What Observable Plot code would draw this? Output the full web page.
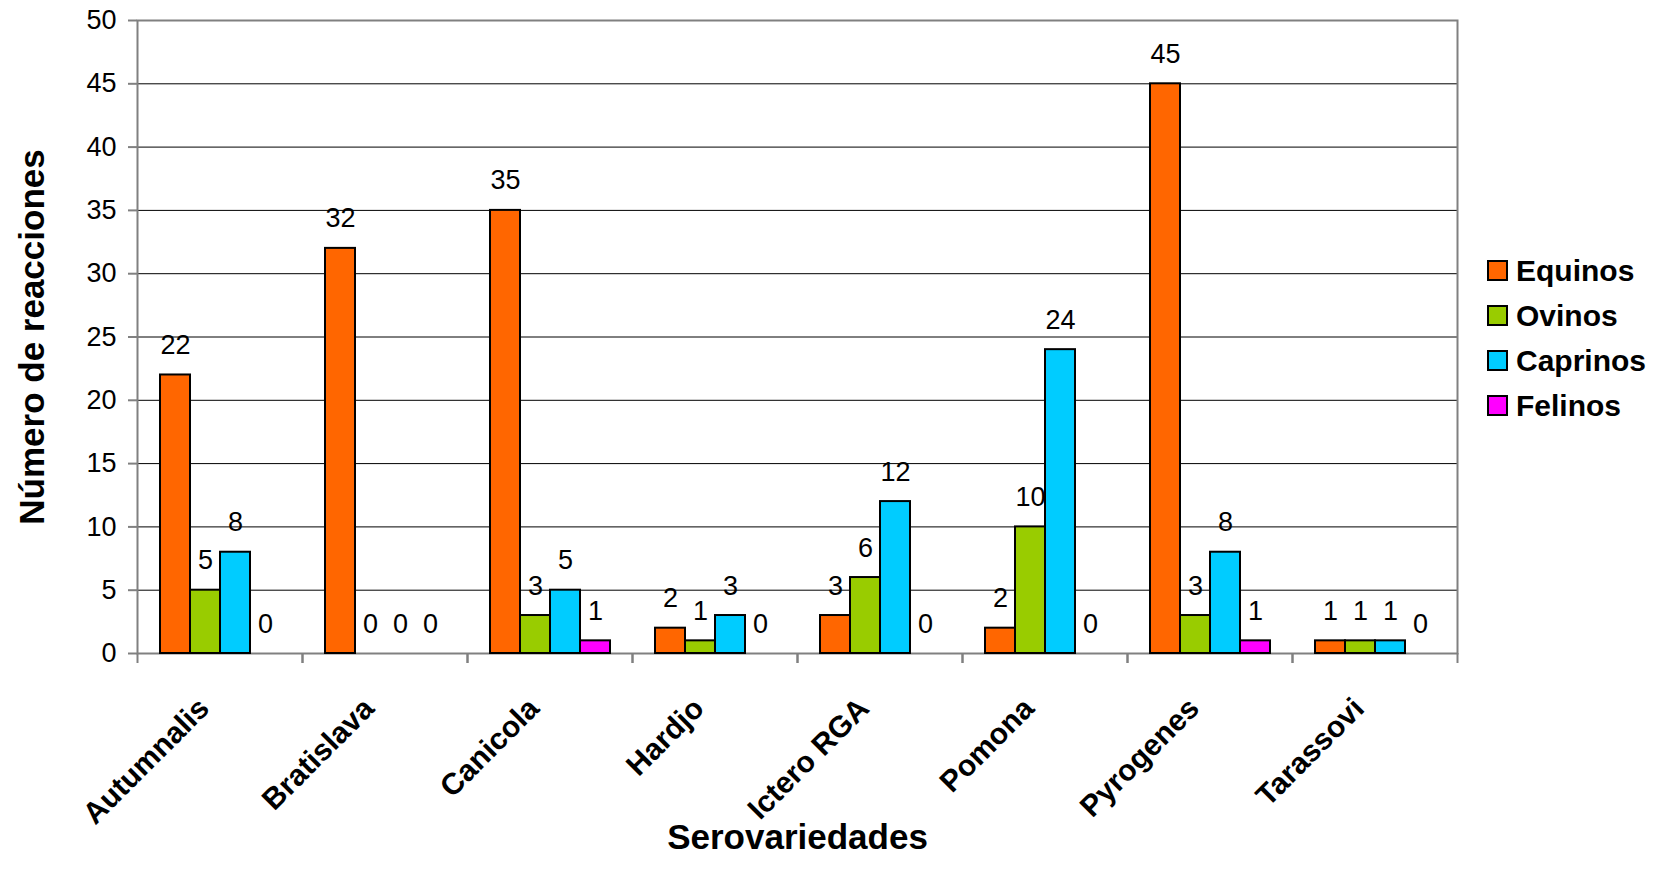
<!DOCTYPE html>
<html>
<head>
<meta charset="utf-8">
<script src="https://cdn.jsdelivr.net/npm/d3@7"></script>
<script src="https://cdn.jsdelivr.net/npm/@observablehq/plot@0.6"></script>
<style>
  html, body { margin: 0; padding: 0; background: #fff; }
  #wrap { position: relative; width: 1661px; height: 883px; font-family: "Liberation Sans", Arial, sans-serif; }
  #legend { position: absolute; left: 1487px; top: 248px; }
  .item { display: flex; align-items: center; height: 45px; font-weight: bold; font-size: 30px; color: #000; }
  .sw { width: 17px; height: 17px; border: 2px solid #000; margin-right: 8px; box-sizing: content-box; }
</style>
</head>
<body>
<div id="wrap"><div id="legend"></div></div>
<script>
// Serovars tested and reactions per species
const serovars = ["Autumnalis", "Bratislava", "Canicola", "Hardjo", "Ictero RGA", "Pomona", "Pyrogenes", "Tarassovi"];
const species = ["Equinos", "Ovinos", "Caprinos", "Felinos"];
const equinos = [22, 32, 35, 2, 3, 2, 45, 1];
const ovinos = [5, 0, 3, 1, 6, 10, 3, 1];
const caprinos = [8, 0, 5, 3, 12, 24, 8, 1];
const felinos = [0, 0, 1, 0, 0, 0, 1, 0];
const colors = ["#FF6600", "#99CC00", "#00CCFF", "#FF00FF"];
const yTicks = [0, 5, 10, 15, 20, 25, 30, 35, 40, 45, 50];

const series = [equinos, ovinos, caprinos, felinos];
const rows = serovars.flatMap((s, i) =>
  species.map((sp, j) => ({serovar: s, species: sp, value: series[j][i]}))
);

const W = 1661, H = 883, ML = 137, MR = 204, MT = 20, MB = 230;
const band = (W - ML - MR) / serovars.length;
const grey = "#808080";

const chart = Plot.plot({
  width: W,
  height: H,
  marginLeft: ML,
  marginRight: MR,
  marginTop: MT,
  marginBottom: MB,
  style: {fontFamily: "'Liberation Sans', Arial, sans-serif", fontSize: "27px", color: "#000", background: "#fff"},
  fx: {domain: serovars, padding: 0},
  x: {domain: species, paddingInner: 0, paddingOuter: 0.75, axis: null},
  y: {domain: [0, 50]},
  color: {domain: species, range: colors},
  marks: [
    Plot.gridY(yTicks.filter(v => v > 0 && v < 50), {stroke: "#000", strokeOpacity: 1, strokeWidth: 1}),
    Plot.frame({facet: "super", stroke: grey, strokeWidth: 2}),
    Plot.axisY(yTicks, {
      tickSize: 9, tickPadding: 12, stroke: grey, strokeWidth: 2, fontSize: 27,
      label: "Número de reacciones", labelAnchor: "center", labelOffset: 118, labelArrow: "none"
    }),
    Plot.axisFx({
      anchor: "bottom", tickRotate: -45, tickSize: 0, tickPadding: 50, dx: -16, fontWeight: "bold", fontSize: 30,
      label: null
    }),
    Plot.axisFx({
      anchor: "bottom", ticks: [], tickSize: 0,
      label: "Serovariedades", labelAnchor: "center", labelOffset: 195, labelArrow: "none", fontWeight: "bold"
    }),
    // category boundary ticks below the baseline
    Plot.axisFx({anchor: "bottom", tickSize: 10, tickFormat: () => "", dx: -band / 2, stroke: grey, strokeWidth: 2, label: null}),
    Plot.axisFx({anchor: "bottom", tickSize: 10, tickFormat: () => "", dx: band / 2, stroke: grey, strokeWidth: 2, label: null}),
    Plot.barY(rows.filter(d => d.value > 0), {
      fx: "serovar", x: "species", y: "value", fill: "species", stroke: "#000", strokeWidth: 2
    }),
    Plot.text(rows, {
      fx: "serovar", x: "species", y: "value", text: d => String(d.value),
      dy: -21, lineAnchor: "bottom", fontSize: 27, fill: "#000"
    })
  ]
});

d3.select(chart).selectAll('g[aria-label="y-axis label"] text, g[aria-label="fx-axis label"] text')
  .attr("font-weight", "bold").attr("font-size", 35);

document.getElementById("wrap").prepend(chart);

const legend = d3.select("#legend");
species.forEach((s, i) => {
  const item = legend.append("div").attr("class", "item");
  item.append("div").attr("class", "sw").style("background", colors[i]);
  item.append("span").text(s);
});
</script>
</body>
</html>
